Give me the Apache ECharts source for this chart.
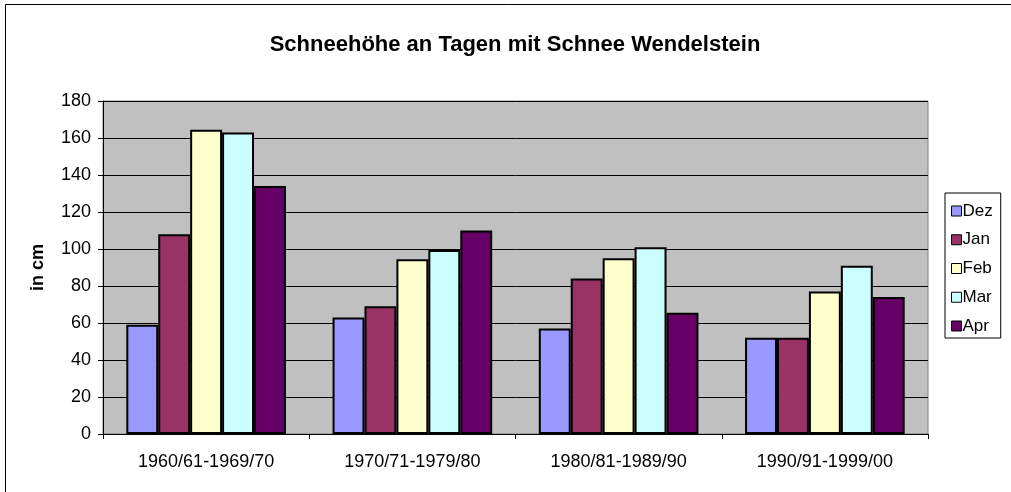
<!DOCTYPE html>
<html>
<head>
<meta charset="utf-8">
<script src="https://cdn.jsdelivr.net/npm/echarts@6/dist/echarts.min.js"></script>
<style>
  html, body { margin: 0; padding: 0; background: #fff; }
  #chart { width: 1011px; height: 492px; }
</style>
</head>
<body>
<div id="chart"></div>
<script>
// Daten
const categories = ['1960/61-1969/70', '1970/71-1979/80', '1980/81-1989/90', '1990/91-1999/00'];
const months = ['Dez', 'Jan', 'Feb', 'Mar', 'Apr'];
const dez = [59, 63, 57, 52];
const jan = [108, 69, 84, 52];
const feb = [164.5, 94.5, 95, 77];
const mar = [163, 99.5, 101, 91];
const apr = [134, 110, 65.5, 74];
const colors = ['#9999FF', '#993366', '#FFFFCC', '#CCFFFF', '#660066'];

const values = [dez, jan, feb, mar, apr];
const font = 'Arial, "Liberation Sans", sans-serif';

const chart = echarts.init(document.getElementById('chart'));

const series = months.map((m, i) => ({
  name: m,
  type: 'bar',
  data: values[i],
  barGap: '0%',
  barCategoryGap: '22.6%',
  itemStyle: { color: colors[i], borderColor: '#000', borderWidth: 2 },
  emphasis: { disabled: true }
}));

chart.setOption({
  animation: false,
  backgroundColor: '#fff',
  title: {
    text: 'Schneehöhe an Tagen mit Schnee Wendelstein',
    left: 510,
    textAlign: 'center',
    top: 29,
    textStyle: { fontFamily: font, fontSize: 22, fontWeight: 'bold', color: '#000' }
  },
  legend: {
    orient: 'vertical',
    left: 945,
    top: 193,
    width: 63,
    padding: [8, 8, 2, 6],
    itemWidth: 10,
    itemHeight: 10,
    itemGap: 8.75,
    borderColor: '#000',
    borderWidth: 1,
    icon: 'rect',
    itemStyle: { borderColor: '#000', borderWidth: 1 },
    textStyle: { fontFamily: font, fontSize: 17, lineHeight: 20, color: '#000', padding: [0, 0, 0, -4] },
    data: months
  },
  grid: {
    left: 103,
    right: 83,
    top: 101,
    bottom: 58,
    show: true,
    backgroundColor: '#C0C0C0',
    borderColor: '#808080',
    borderWidth: 1
  },
  xAxis: {
    type: 'category',
    data: categories,
    axisLine: { lineStyle: { color: '#000', width: 1 } },
    axisTick: { show: true, length: 5, lineStyle: { color: '#000' } },
    axisLabel: { fontFamily: font, fontSize: 18, color: '#000', margin: 19 }
  },
  yAxis: {
    type: 'value',
    min: 0,
    max: 180,
    interval: 20,
    name: 'in cm',
    nameLocation: 'middle',
    nameGap: 56,
    nameTextStyle: { fontFamily: font, fontSize: 18, fontWeight: 'bold', color: '#000' },
    axisLine: { show: true, lineStyle: { color: '#000', width: 1 } },
    axisTick: { show: true, length: 5, lineStyle: { color: '#000' } },
    axisLabel: { fontFamily: font, fontSize: 18, color: '#000', margin: 12 },
    splitLine: { lineStyle: { color: '#000', width: 1 } }
  },
  graphic: [{
    type: 'rect',
    shape: { x: 5.5, y: 4.5, width: 1020, height: 500 },
    style: { fill: 'none', stroke: '#000', lineWidth: 1 },
    silent: true,
    z: -1
  }],
  series
});
</script>
</body>
</html>
